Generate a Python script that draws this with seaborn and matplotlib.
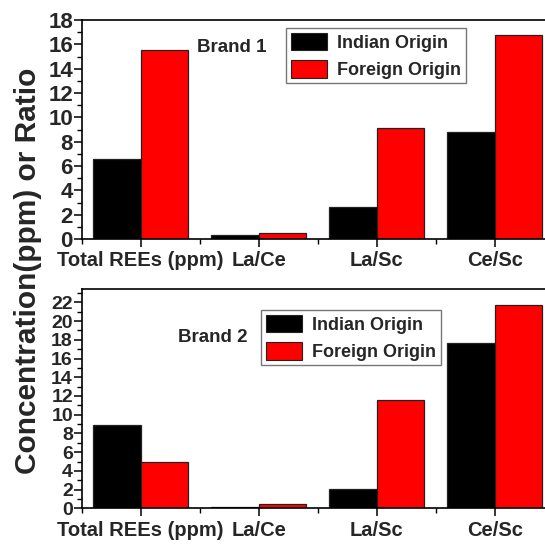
import matplotlib
matplotlib.use("Agg")
import matplotlib.pyplot as plt
import seaborn as sns
import pandas as pd
from matplotlib.ticker import MultipleLocator
from matplotlib.patches import Patch

categories = ["Total REEs (ppm)", "La/Ce", "La/Sc", "Ce/Sc"]
origins = ["Indian Origin", "Foreign Origin"]
brand1_indian = [6.55, 0.3, 2.64, 8.8]
brand1_foreign = [15.53, 0.52, 9.15, 16.76]
brand2_indian = [8.9, 0.1, 2.05, 17.7]
brand2_foreign = [4.97, 0.5, 11.6, 21.75]

sns.set_theme(style="ticks")
plt.rcParams['font.family'] = ['Liberation Sans', 'DejaVu Sans']
plt.rcParams['font.weight'] = 'bold'

W, H = 545, 546
fig = plt.figure(figsize=(W / 100, H / 100), dpi=100)

colors = {"Indian Origin": "#000000", "Foreign Origin": "#ff0000"}

def make_df(ind, forg):
    rows = []
    for c, v in zip(categories, ind):
        rows.append({"cat": c, "origin": origins[0], "val": v})
    for c, v in zip(categories, forg):
        rows.append({"cat": c, "origin": origins[1], "val": v})
    return pd.DataFrame(rows)

def panel(rect, ind, forg, ymax, ylabsize, label, label_xy, leg_bbox):
    ax = fig.add_axes(rect)
    df = make_df(ind, forg)
    sns.barplot(data=df, x="cat", y="val", hue="origin", order=categories,
                hue_order=origins, palette=colors, width=0.808, ax=ax, saturation=1,
                edgecolor="#222222", linewidth=0.9, legend=False)
    ax.set_xlim(-0.5, 3.5)
    ax.set_ylim(0, ymax)
    ax.yaxis.set_major_locator(MultipleLocator(2))
    ax.yaxis.set_minor_locator(MultipleLocator(1))
    ax.xaxis.set_minor_locator(MultipleLocator(0.5))
    ax.tick_params(axis='both', which='major', direction='out', length=5.8, width=1.1,
                   color='black')
    ax.tick_params(axis='both', which='minor', direction='out', length=3.6, width=1.0, color='black')
    ax.tick_params(axis='x', which='major', labelsize=14.5, pad=3)
    ax.tick_params(axis='y', which='major', labelsize=ylabsize, pad=0.5)
    for lab in ax.get_xticklabels() + ax.get_yticklabels():
        lab.set_fontweight('bold')
    ax.set_xlabel("")
    ax.set_ylabel("")
    for s in ax.spines.values():
        s.set_linewidth(1.2)
        s.set_color('black')
    ax.spines['right'].set_visible(False)
    ax.text(label_xy[0], label_xy[1], label, transform=fig.transFigure,
            fontsize=13.5, fontweight='bold', ha='left', va='center')
    handles = [Patch(facecolor=colors[o], edgecolor="#222222", linewidth=0.8, label=o) for o in origins]
    leg = ax.legend(handles=handles, loc='upper left', bbox_to_anchor=leg_bbox,
                    bbox_transform=fig.transFigure, frameon=True, fancybox=False,
                    edgecolor='#555555', fontsize=13, handlelength=2.0, handleheight=1.15,
                    handletextpad=0.6, borderpad=0.25, labelspacing=0.45, borderaxespad=0)
    leg.get_frame().set_linewidth(1.0)
    for t in leg.get_texts():
        t.set_fontweight('bold')
    return ax

left = 81.7 / W
width = 472 / W
ax1 = panel([left, (H - 239) / H, width, 219 / H], brand1_indian, brand1_foreign, 18, 16,
            "Brand 1", (197 / W, 1 - 47 / H), (286 / W, 1 - 28 / H))
ax2 = panel([left, (H - 508.3) / H, width, 219 / H], brand2_indian, brand2_foreign, 23.4, 14,
            "Brand 2", (178 / W, 1 - 338 / H), (261 / W, 1 - 310 / H))

fig.text(28 / W, 1 - 271 / H, "Concentration(ppm) or Ratio", rotation=90, ha='center', va='center',
         fontsize=21.5, fontweight='bold')

fig.savefig("out.png", dpi=100)
